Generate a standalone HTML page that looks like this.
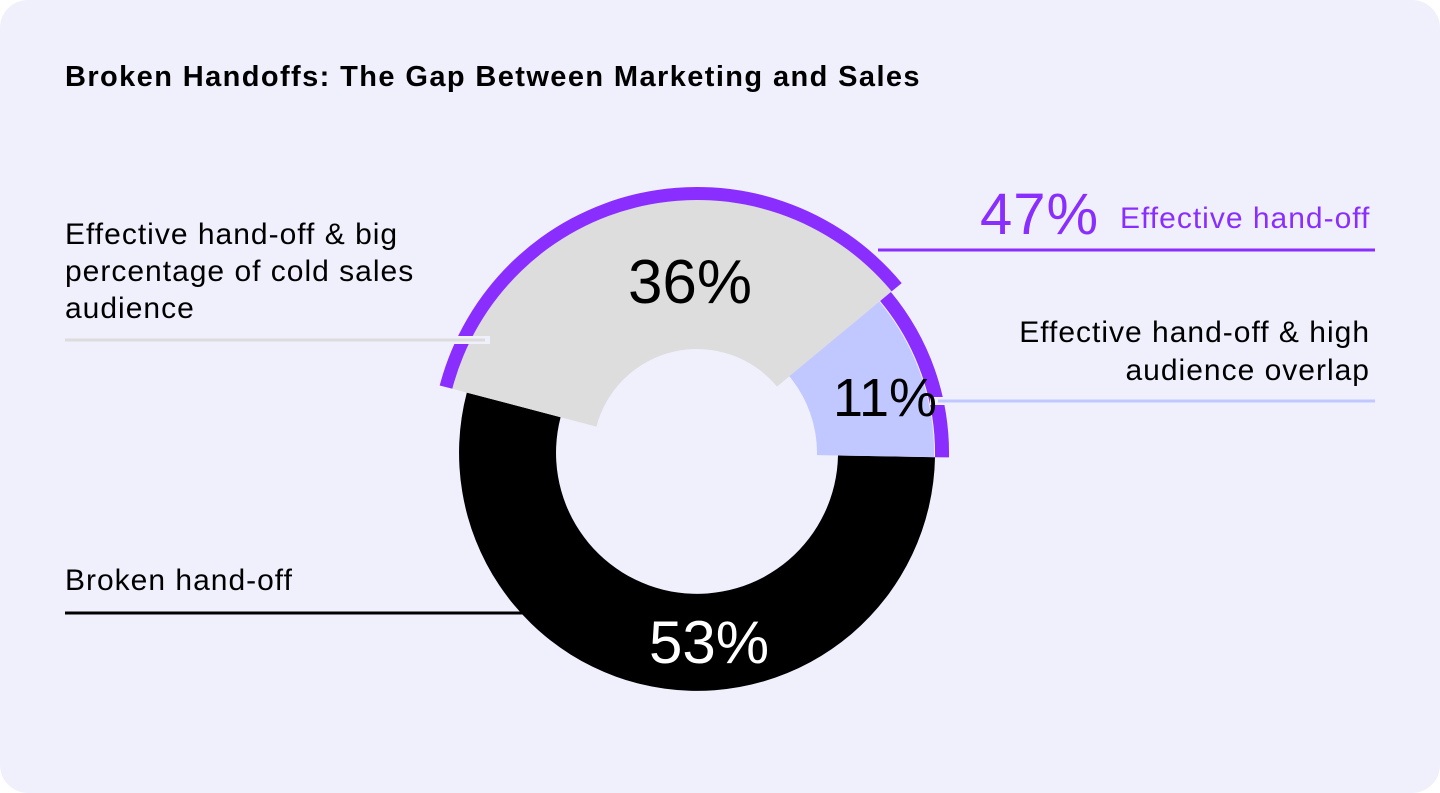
<!DOCTYPE html>
<html><head><meta charset="utf-8"><style>
html,body{margin:0;padding:0;background:#fff;}
#c{position:relative;width:1440px;height:793px;background:#f0f0fd;border-radius:28px;overflow:hidden;font-family:"Liberation Sans",sans-serif;}
.t{position:absolute;white-space:nowrap;color:#000;}
</style></head><body>
<div id="c">
<div class="t" style="left:65px;top:61px;font-size:29px;font-weight:bold;letter-spacing:1.4px;">Broken Handoffs: The Gap Between Marketing and Sales</div>
<div class="t" style="left:65px;top:216px;font-size:30px;line-height:37px;letter-spacing:1px;">Effective hand-off &amp; big<br>percentage of cold sales<br>audience</div>
<div class="t" style="left:65px;top:564px;font-size:30px;letter-spacing:1px;">Broken hand-off</div>
<div class="t" style="right:70px;top:314px;font-size:30px;line-height:38px;text-align:right;letter-spacing:1px;">Effective hand-off &amp; high<br>audience overlap</div>
<div class="t" style="left:980px;top:181px;font-size:58px;color:#8a2eff;letter-spacing:1px;">47%</div>
<div class="t" style="left:1120px;top:202px;font-size:30px;color:#8a2eff;letter-spacing:1px;">Effective hand-off</div>
<svg width="1440" height="793" style="position:absolute;left:0;top:0" id="s">
<g id="g"></g>
<line x1="440" y1="340" x2="490" y2="340" stroke="#f0f0fd" stroke-width="8"/>
<line x1="65" y1="340" x2="485" y2="340" stroke="#dcdcdc" stroke-width="3"/>
<line x1="65" y1="613" x2="527" y2="613" stroke="#000" stroke-width="3"/>
<line x1="878" y1="250" x2="1375" y2="250" stroke="#8a2eff" stroke-width="3"/>
<line x1="930" y1="401" x2="970" y2="401" stroke="#f0f0fd" stroke-width="8"/>
<line x1="938" y1="401" x2="1375" y2="401" stroke="#c1c8ff" stroke-width="3"/>
<text x="690" y="303" font-size="62" text-anchor="middle" font-family="Liberation Sans, sans-serif">36%</text>
<text x="885" y="416" font-size="54" text-anchor="middle" font-family="Liberation Sans, sans-serif">11%</text>
<text x="709" y="663" font-size="60" text-anchor="middle" fill="#fff" font-family="Liberation Sans, sans-serif">53%</text>
</svg>
</div>
<script>
var cx=697,cy=453;
function P(r,a){a=a*Math.PI/180;return (cx+r*Math.cos(a)).toFixed(1)+","+(cy-r*Math.sin(a)).toFixed(1);}
function seg(r1,r2,a1,a2,fill){
 var large=(a2-a1)>180?1:0;
 var d="M"+P(r2,a1)+" A"+r2+","+r2+" 0 "+large+" 0 "+P(r2,a2)+" L"+P(r1,a2)+" A"+r1+","+r1+" 0 "+large+" 1 "+P(r1,a1)+" Z";
 return '<path d="'+d+'" fill="'+fill+'"/>';
}
var h="";
h+=seg(141,238,165.3,359,"#000");
h+=seg(104,253,39.7,165.3,"#dddddd");
h+=seg(253,266,39.7,165.3,"#8a2eff");
h+=seg(120,237,-1,39.7,"#c1c8ff");
h+=seg(238,252,-1,39.7,"#8a2eff");
document.getElementById("g").innerHTML=h;
</script>
</body></html>
